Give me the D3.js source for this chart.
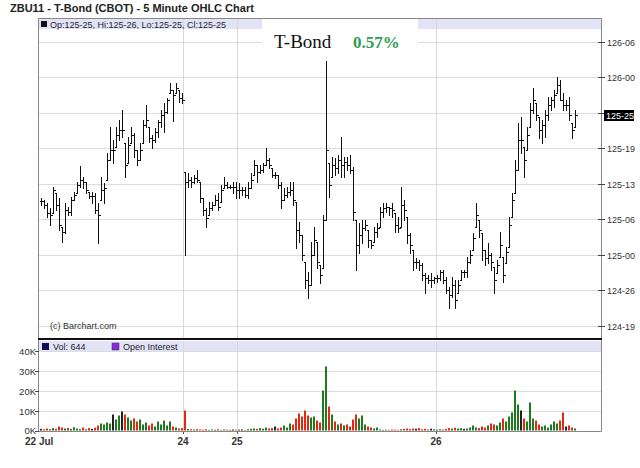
<!DOCTYPE html>
<html>
<head>
<title>ZBU11 - T-Bond (CBOT) - 5 Minute OHLC Chart</title>
<script src="https://d3js.org/d3.v7.min.js"></script>
<style>
body { margin: 0; background: #fff; }
svg { font-family: "Liberation Sans", Arial, sans-serif; }
</style>
</head>
<body>
<svg id="chart" width="640" height="468"></svg>
<script>
// prices are in 32nds above 124-00 (so 57 = 125-25)
var highs = [
	41.9, 41.5, 41.0, 40.0, 43.9, 42.7, 41.9, 36.6, 41.0, 40.2,
	42.0, 42.9, 44.8, 47.7, 45.7, 44.8, 42.9, 42.9, 42.7, 41.0,
	45.7, 44.6, 50.1, 54.9, 52.5, 54.9, 56.1, 58.0, 52.0, 53.0,
	54.9, 53.7, 50.6, 52.0, 56.1, 58.9, 54.9, 53.4, 54.7, 56.1,
	58.0, 59.3, 60.2, 62.9, 61.6, 62.9, 61.6, 61.1,
	46.6, 46.4, 45.7, 46.0, 47.0, 44.8, 41.9, 40.0, 41.1, 41.1,
	42.4, 42.7, 44.2, 45.7, 44.8, 44.2, 44.8, 44.8,
	44.6, 43.9, 43.9, 44.8, 46.4, 48.8, 47.9, 47.9, 48.3, 51.0,
	49.2, 47.4, 46.6, 46.0, 44.8, 43.7, 43.9, 44.8, 44.8, 41.1,
	37.5, 35.1, 30.1, 28.3, 33.8, 36.6, 33.8, 29.6, 38.7, 67.0,
	48.3, 49.4, 49.2, 49.7, 53.0, 49.4, 49.4, 49.7, 47.5, 37.8,
	37.3, 37.8, 37.8, 36.0, 34.2, 36.6, 37.3, 40.2, 41.0, 41.0,
	40.2, 41.0, 39.1, 38.4, 43.9, 41.5, 38.4, 35.4, 32.3, 30.9,
	30.5, 30.0, 28.1, 27.7, 28.1, 27.4,
	27.7, 28.7, 28.7, 27.4, 25.6, 27.4, 26.8, 26.8, 28.7, 28.7,
	31.0, 32.3, 35.4, 41.0, 37.8, 35.4, 32.3, 33.6, 31.8, 29.2,
	30.5, 35.6, 31.0, 32.9, 38.4, 42.7, 48.8, 55.6, 56.7, 51.2,
	54.9, 59.3, 62.0, 59.3, 56.7, 56.1, 58.0, 60.4, 60.4, 61.6,
	64.0, 63.5, 61.1, 59.8, 60.4, 55.6, 58.0
];
var lows = [
	40.5, 40.0, 38.4, 36.9, 39.1, 39.6, 36.0, 33.8, 35.4, 38.7,
	38.7, 41.5, 42.7, 43.9, 43.7, 42.7, 41.9, 41.0, 39.1, 33.6,
	41.5, 41.0, 45.1, 48.8, 48.3, 51.2, 52.5, 53.0, 45.7, 48.3,
	52.0, 49.4, 47.9, 48.8, 52.0, 54.9, 52.1, 51.0, 52.1, 53.0,
	54.9, 53.9, 57.4, 61.1, 56.0, 61.1, 59.4, 59.3,
	31.4, 43.9, 43.9, 44.6, 44.8, 41.1, 38.7, 36.6, 38.7, 39.6,
	40.5, 39.6, 41.1, 43.7, 43.7, 43.7, 42.7, 41.9,
	41.9, 42.4, 42.0, 41.9, 43.7, 46.0, 44.8, 46.4, 46.6, 47.9,
	47.4, 45.7, 45.5, 43.7, 40.0, 41.5, 42.0, 42.4, 40.5, 32.7,
	33.8, 30.5, 25.4, 23.5, 25.9, 31.4, 29.0, 26.3, 29.0, 37.8,
	42.0, 45.7, 46.0, 46.4, 45.7, 45.7, 47.0, 46.4, 37.8, 28.7,
	31.8, 33.6, 36.0, 32.9, 32.7, 33.8, 34.7, 36.6, 38.4, 39.3,
	38.7, 38.4, 35.6, 35.6, 36.6, 37.8, 33.6, 31.8, 28.7, 29.0,
	28.7, 26.8, 24.5, 26.3, 25.6, 26.3,
	26.5, 26.8, 26.3, 24.5, 21.7, 23.7, 21.7, 24.5, 26.8, 27.4,
	27.4, 30.0, 32.3, 36.6, 34.7, 30.5, 29.6, 30.0, 28.7, 24.5,
	28.1, 31.0, 26.5, 30.0, 32.9, 38.4, 42.7, 47.0, 50.1, 45.7,
	50.6, 54.9, 57.4, 56.1, 52.9, 52.0, 53.0, 56.1, 58.0, 58.5,
	61.1, 59.8, 58.0, 58.0, 56.1, 52.9, 54.9
];
var closes = [
	41.3, 40.5, 39.1, 38.7, 43.3, 40.5, 36.9, 35.6, 39.6, 39.3,
	41.5, 42.4, 44.2, 45.1, 44.8, 43.3, 42.2, 42.2, 39.6, 38.7,
	43.3, 43.7, 48.8, 50.6, 50.6, 53.4, 54.3, 54.3, 47.9, 51.6,
	53.4, 50.6, 48.8, 50.6, 55.2, 56.1, 52.9, 52.5, 53.9, 55.8,
	57.1, 57.6, 59.8, 61.6, 60.7, 62.0, 60.2, 59.8,
	44.8, 45.1, 44.8, 45.5, 45.1, 41.9, 39.6, 38.2, 40.0, 40.5,
	41.5, 40.2, 43.3, 44.2, 43.9, 43.9, 43.9, 43.3,
	43.3, 43.3, 42.4, 43.7, 45.1, 47.9, 46.6, 47.0, 47.9, 48.8,
	47.9, 46.0, 46.0, 44.2, 41.5, 42.4, 42.9, 43.3, 41.5, 36.0,
	35.1, 31.4, 26.8, 25.9, 31.4, 34.2, 30.1, 27.7, 37.8, 50.6,
	44.2, 47.9, 47.4, 48.8, 47.9, 48.5, 47.9, 47.0, 39.3, 33.2,
	35.1, 36.4, 36.9, 34.2, 33.2, 35.6, 36.4, 39.3, 40.0, 40.2,
	40.0, 39.6, 36.9, 36.4, 40.5, 39.6, 35.1, 33.2, 30.1, 30.1,
	29.6, 27.7, 27.2, 26.8, 26.8, 27.2,
	27.2, 28.3, 26.8, 25.0, 24.1, 25.9, 23.2, 25.9, 28.3, 28.3,
	30.1, 31.4, 34.5, 38.7, 36.0, 32.3, 30.9, 31.4, 30.1, 26.8,
	29.6, 33.2, 27.7, 32.0, 36.9, 41.5, 47.0, 52.5, 52.5, 48.8,
	53.4, 58.0, 59.8, 57.1, 54.3, 55.2, 57.1, 58.9, 59.8, 60.7,
	62.6, 59.8, 58.9, 58.9, 57.1, 54.3, 57.0
];
// volume in thousands
var volumes = [
	0.8, 0.6, 1.0, 0.7, 1.2, 0.8, 2.0, 1.5, 1.0, 1.3,
	0.8, 1.6, 1.0, 0.7, 1.5, 0.6, 1.2, 0.8, 1.4, 2.5,
	3.5, 3.0, 4.0, 3.5, 8.0, 5.5, 7.5, 9.5, 8.0, 6.5,
	5.0, 6.0, 4.5, 5.5, 3.0, 4.0, 2.5, 3.5, 2.0, 4.5,
	3.0, 5.0, 2.5, 4.5, 2.0, 1.5, 1.0, 1.2,
	10.0, 0.8, 0.6, 0.5, 0.7, 0.5, 0.4, 0.6, 0.3, 0.5,
	0.4, 0.6, 0.3, 0.5, 0.4, 0.3, 0.5, 0.4,
	0.4, 0.5, 0.3, 0.6, 0.8, 1.0, 0.8, 1.2, 0.9, 1.5,
	1.0, 1.2, 2.0, 1.0, 1.5, 2.5, 1.5, 3.5, 3.0, 6.0,
	8.5, 7.0, 10.0, 7.5, 6.5, 7.0, 5.0, 4.0, 20.0, 32.0,
	12.0, 8.0, 4.5, 3.0, 3.5, 2.5, 3.0, 2.0, 5.5, 8.0,
	6.0, 7.5, 3.0, 2.0, 1.5, 1.0, 1.5, 0.5, 0.3, 0.4,
	0.3, 0.5, 0.4, 0.3, 0.6, 0.8, 1.0, 0.7, 1.0, 0.9,
	1.2, 0.6, 0.8, 0.5, 0.9, 0.6,
	0.4, 0.6, 0.5, 0.8, 1.2, 1.0, 1.4, 1.0, 1.2, 0.8,
	1.0, 1.5, 2.5, 1.5, 1.2, 2.0, 1.5, 2.5, 3.5, 3.0,
	2.5, 4.0, 6.0, 4.5, 7.0, 9.0, 20.0, 13.0, 10.0, 6.0,
	4.5, 14.0, 6.0, 5.0, 3.0, 2.0, 2.5, 1.5, 3.0, 4.5,
	3.5, 5.0, 9.0, 2.0, 2.5, 1.5, 1.0
];

var dateTicks = [0, 48, 66, 132];
var dateLabels = ["22 Jul", "24", "25", "26"];
var priceTicks = [18.5, 25, 31.5, 38, 44.5, 51, 57.5, 64, 70.5];
var priceLabels = ["124-19", "124-26", "125-00", "125-06", "125-13", "125-19", "125-26", "126-00", "126-06"];
var volTicks = [0, 10, 20, 30, 40];
var volLabels = ["0K", "10K", "20K", "30K", "40K"];
var lastPrice = 57;
var lastLabel = "125-25";

var svg = d3.select("#chart");

var left = 39, right = 601;
var x = d3.scaleLinear().domain([0, 187]).range([left, right]);
var y = d3.scaleLinear().domain([18.5, 70.5]).range([325.5, 41.5]);
var yv = d3.scaleLinear().domain([0, 40]).range([430.5, 350.5]);

function xc(i) { return Math.round(x(i + 0.5)) + 0.5; }
function py(v) { return Math.round(y(v)) + 0.5; }

// title
svg.append("text").attr("x", 10).attr("y", 12)
	.attr("font-size", 11).attr("font-weight", "bold").attr("fill", "#222")
	.text("ZBU11 - T-Bond (CBOT) - 5 Minute OHLC Chart");

// legend bands
svg.append("rect").attr("x", left).attr("y", 19).attr("width", right - left).attr("height", 10).attr("fill", "#e3e3f7");
svg.append("rect").attr("x", left).attr("y", 341).attr("width", right - left).attr("height", 11).attr("fill", "#e3e3f7");

// horizontal price grid
svg.selectAll("line.pgrid").data(priceTicks).enter().append("line")
	.attr("x1", left).attr("x2", right)
	.attr("y1", function (d) { return py(d); }).attr("y2", function (d) { return py(d); })
	.attr("stroke", "#dcdcdc");

// volume grid
svg.selectAll("line.vgrid").data(volTicks.slice(1)).enter().append("line")
	.attr("x1", left).attr("x2", right)
	.attr("y1", function (d) { return Math.round(yv(d)) + 0.5; }).attr("y2", function (d) { return Math.round(yv(d)) + 0.5; })
	.attr("stroke", "#dcdcdc");

// vertical date grid
dateTicks.slice(1).forEach(function (d) {
	var xx = Math.round(x(d)) + 0.5;
	svg.append("line").attr("x1", xx).attr("x2", xx).attr("y1", 19).attr("y2", 339).attr("stroke", "#d8d8d8");
	svg.append("line").attr("x1", xx).attr("x2", xx).attr("y1", 341).attr("y2", 431).attr("stroke", "#d8d8d8");
	svg.append("line").attr("x1", xx).attr("x2", xx).attr("y1", 431).attr("y2", 434).attr("stroke", "#555");
});

// white box behind the headline
svg.append("rect").attr("x", 262).attr("y", 19).attr("width", 156).attr("height", 36).attr("fill", "#fff");
svg.append("text").attr("x", 274).attr("y", 48)
	.attr("font-family", "'Liberation Serif', 'Times New Roman', serif")
	.attr("font-size", 19).attr("fill", "#111").text("T-Bond");
svg.append("text").attr("x", 353).attr("y", 48)
	.attr("font-family", "'Liberation Serif', 'Times New Roman', serif")
	.attr("font-size", 17).attr("font-weight", "bold").attr("fill", "#2e9e54").text("0.57%");

// price legend
svg.append("rect").attr("x", 41).attr("y", 21).attr("width", 6).attr("height", 6).attr("fill", "#111");
svg.append("text").attr("x", 50).attr("y", 27.5).attr("font-size", 9).attr("fill", "#223")
	.text("Op:125-25, Hi:125-26, Lo:125-25, Cl:125-25");

// volume legend
svg.append("rect").attr("x", 42).attr("y", 343).attr("width", 7).attr("height", 7).attr("fill", "#101050");
svg.append("text").attr("x", 53).attr("y", 350).attr("font-size", 9).attr("fill", "#223").text("Vol: 644");
svg.append("rect").attr("x", 112).attr("y", 343).attr("width", 7).attr("height", 7).attr("fill", "#8a2be2").attr("stroke", "#333").attr("stroke-width", 0.5);
svg.append("text").attr("x", 123).attr("y", 350).attr("font-size", 9).attr("fill", "#223").text("Open Interest");

// OHLC bars
var bars = svg.append("g").attr("stroke", "#111").attr("stroke-width", 1).attr("shape-rendering", "crispEdges");
closes.forEach(function (c, i) {
	var cx = xc(i);
	var op = i > 0 ? closes[i - 1] : c;
	op = Math.max(lows[i], Math.min(highs[i], op));
	bars.append("line").attr("x1", cx).attr("x2", cx).attr("y1", py(highs[i]) - 0.5).attr("y2", py(lows[i]) + 0.5);
	bars.append("line").attr("x1", cx - 2).attr("x2", cx).attr("y1", py(op)).attr("y2", py(op));
	bars.append("line").attr("x1", cx).attr("x2", cx + 2).attr("y1", py(c)).attr("y2", py(c));
});

// volume bars
svg.append("g").selectAll("rect").data(volumes).enter().append("rect")
	.attr("x", function (d, i) { return Math.round(x(i + 0.5)) - 1; })
	.attr("width", 2)
	.attr("y", function (d) { return yv(d); })
	.attr("height", function (d) { return yv(0) - yv(d); })
	.attr("fill", function (d, i) {
		if (i == 0 || closes[i] == closes[i - 1]) return "#222";
		return closes[i] > closes[i - 1] ? "#1f7a1f" : "#e02a12";
	});

// frames
svg.append("path").attr("d", "M" + (left - 0.5) + ",339 V18.5 H" + (right + 0.5) + " V339")
	.attr("fill", "none").attr("stroke", "#888");
svg.append("path").attr("d", "M" + (left - 0.5) + ",340 V431.5 H" + (right + 0.5) + " V340")
	.attr("fill", "none").attr("stroke", "#888");
svg.append("rect").attr("x", left - 1).attr("y", 338).attr("width", right - left + 2).attr("height", 2).attr("fill", "#111");

// right price axis
priceTicks.forEach(function (d, i) {
	var yy = py(d);
	svg.append("line").attr("x1", right - 3).attr("x2", right + 4).attr("y1", yy).attr("y2", yy).attr("stroke", "#444");
	if (Math.abs(y(d) - y(lastPrice)) > 8) {
		svg.append("text").attr("x", 607).attr("y", yy + 3.5).attr("font-size", 9).attr("fill", "#333").text(priceLabels[i]);
	}
});
svg.append("rect").attr("x", 604).attr("y", Math.round(y(lastPrice)) - 5).attr("width", 30).attr("height", 11).attr("fill", "#000");
svg.append("text").attr("x", 606).attr("y", Math.round(y(lastPrice)) + 3.5).attr("font-size", 9).attr("fill", "#fff").text(lastLabel);

// copyright
svg.append("text").attr("x", 50).attr("y", 329).attr("font-size", 9).attr("fill", "#333").text("(c) Barchart.com");

// left volume axis
volTicks.forEach(function (d, i) {
	var yy = Math.round(yv(d)) + 0.5;
	svg.append("line").attr("x1", left - 4).attr("x2", left).attr("y1", yy).attr("y2", yy).attr("stroke", "#444");
	svg.append("text").attr("x", 36).attr("y", i == 0 ? yy + 2.5 : yy + 3.5).attr("text-anchor", "end")
		.attr("font-size", 9.5).attr("fill", "#333").text(volLabels[i]);
});

// date labels
dateTicks.forEach(function (d, i) {
	svg.append("text")
		.attr("x", i == 0 ? 25 : Math.round(x(d)))
		.attr("y", 445)
		.attr("text-anchor", i == 0 ? "start" : "middle")
		.attr("font-size", 10).attr("font-weight", "bold").attr("fill", "#333")
		.text(dateLabels[i]);
});
</script>
</body>
</html>
